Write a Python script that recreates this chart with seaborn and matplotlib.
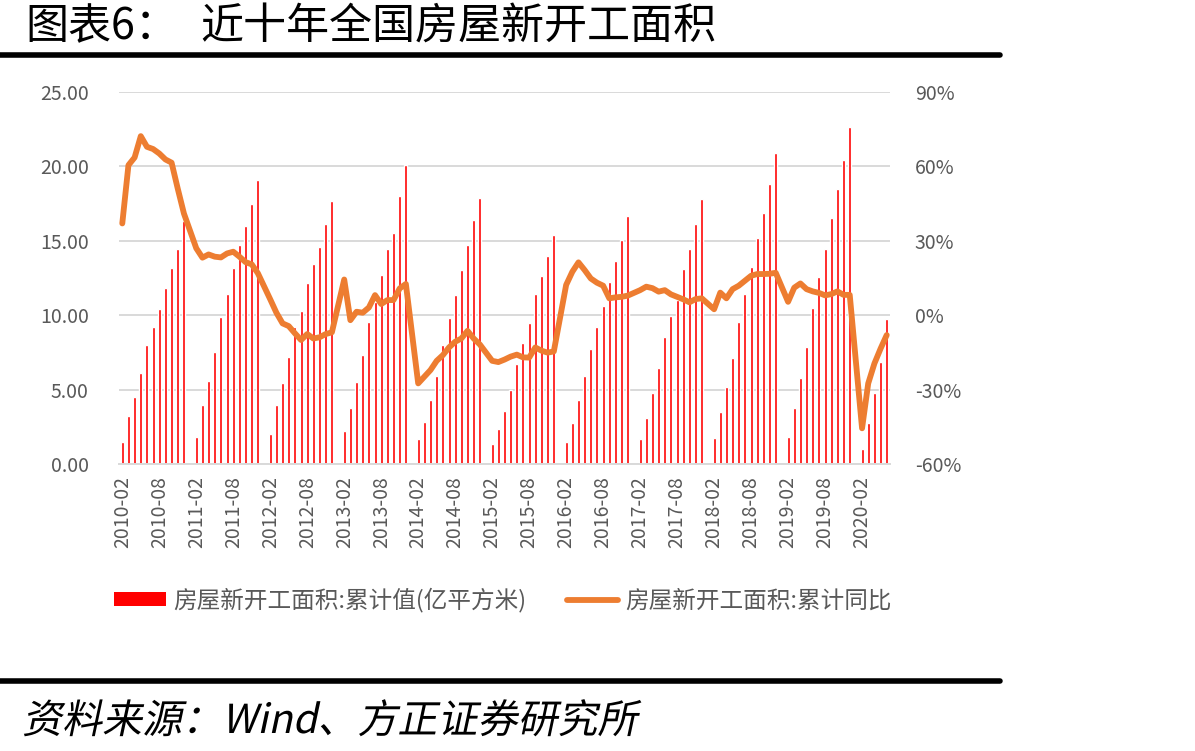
import numpy as np
import pandas as pd
import matplotlib
matplotlib.use("Agg")
import matplotlib.pyplot as plt
import seaborn as sns
from matplotlib.lines import Line2D
from matplotlib.patches import Patch, PathPatch
from matplotlib.textpath import TextPath
from matplotlib.font_manager import FontProperties
from matplotlib.transforms import Affine2D
from matplotlib.ticker import FuncFormatter

# 房屋新开工面积:累计值(亿平方米), 每年2-12月 (1-2月合并, 1月空缺)
area_2010 = [1.50, 3.20, 4.48, 6.10, 8.00, 9.19, 10.40, 11.85, 13.14, 14.43, 16.32]
area_2011 = [1.84, 3.97, 5.60, 7.55, 9.90, 11.42, 13.15, 14.70, 16.00, 17.45, 19.09]
area_2012 = [2.00, 3.97, 5.42, 7.21, 9.19, 10.30, 12.18, 13.42, 14.60, 16.13, 17.70]
area_2013 = [2.24, 3.78, 5.49, 7.30, 9.52, 10.90, 12.70, 14.43, 15.55, 18.03, 20.09]
area_2014 = [1.66, 2.84, 4.30, 5.93, 8.00, 9.79, 11.34, 13.06, 14.72, 16.40, 17.88]
area_2015 = [1.32, 2.35, 3.56, 5.00, 6.72, 8.10, 9.46, 11.42, 12.63, 14.00, 15.39]
area_2016 = [1.50, 2.78, 4.30, 5.93, 7.75, 9.19, 10.64, 12.21, 13.66, 15.03, 16.67]
area_2017 = [1.66, 3.11, 4.75, 6.47, 8.51, 9.97, 11.02, 13.08, 14.43, 16.13, 17.81]
area_2018 = [1.73, 3.47, 5.19, 7.14, 9.54, 11.42, 13.22, 15.21, 16.85, 18.82, 20.88]
area_2019 = [1.84, 3.78, 5.76, 7.88, 10.46, 12.55, 14.43, 16.51, 18.48, 20.43, 22.67]
area_2020 = [0.99, 2.78, 4.75, 6.88, 9.72]

# 房屋新开工面积:累计同比 (%)
yoy_2010 = [37.0, 60.5, 63.6, 72.2, 67.9, 67.0, 65.2, 62.8, 61.5, 51.0, 41.0]
yoy_2011 = [27.0, 23.2, 24.5, 23.6, 23.3, 24.9, 25.6, 23.6, 21.4, 20.5, 16.9]
yoy_2012 = [6.4, 1.0, -3.3, -4.4, -7.3, -10.0, -7.6, -9.4, -8.9, -7.6, -6.9]
yoy_2013 = [14.4, -2.0, 1.4, 1.0, 3.1, 8.1, 4.5, 6.1, 6.1, 10.8, 12.6]
yoy_2014 = [-27.5, -24.8, -22.1, -18.4, -16.1, -13.0, -10.7, -9.4, -6.3, -9.4, -11.8]
yoy_2015 = [-18.4, -18.9, -17.9, -16.7, -15.9, -17.0, -17.1, -13.0, -14.3, -15.1, -14.6]
yoy_2016 = [12.2, 17.5, 21.3, 18.2, 14.8, 13.1, 11.9, 6.8, 7.2, 7.4, 7.9]
yoy_2017 = [10.1, 11.5, 10.9, 9.5, 10.1, 8.4, 7.4, 6.4, 5.2, 6.5, 6.8]
yoy_2018 = [2.4, 9.1, 6.8, 10.5, 11.9, 13.9, 15.9, 16.6, 16.6, 16.7, 17.1]
yoy_2019 = [5.4, 11.1, 12.8, 10.5, 9.6, 9.0, 8.0, 8.5, 9.6, 8.2, 8.2]
yoy_2020 = [-45.6, -27.5, -19.5, -13.5, -8.0]

years = list(range(2010, 2021))
area_lists = [area_2010, area_2011, area_2012, area_2013, area_2014, area_2015,
              area_2016, area_2017, area_2018, area_2019, area_2020]
yoy_lists = [yoy_2010, yoy_2011, yoy_2012, yoy_2013, yoy_2014, yoy_2015,
             yoy_2016, yoy_2017, yoy_2018, yoy_2019, yoy_2020]

rows = []
for y, a, g in zip(years, area_lists, yoy_lists):
    if y > years[0]:
        rows.append((f"{y}-01", np.nan, np.nan))
    for k, (av, gv) in enumerate(zip(a, g)):
        rows.append((f"{y}-{k + 2:02d}", av, gv))
df = pd.DataFrame(rows, columns=["month", "area", "yoy"])
df["idx"] = np.arange(len(df))
data = df.dropna()

sns.set_theme(style="white")
plt.rcParams["font.family"] = ["Noto Sans CJK SC", "DejaVu Sans"]
plt.rcParams["axes.unicode_minus"] = False

W, H = 1195, 751
fig = plt.figure(figsize=(W / 100, H / 100), dpi=100)
ax = fig.add_axes([119.2 / W, 1 - 464 / H, 770.6 / W, 372 / H])

sns.barplot(data=data, x="idx", y="area", native_scale=True, color="#FF0000",
            saturation=1, width=0.487, errorbar=None, ax=ax)

ax2 = ax.twinx()
sns.lineplot(data=data, x="idx", y="yoy", color="#ED7D31", linewidth=4.2, ax=ax2)
for ln in ax2.lines:
    ln.set_solid_joinstyle("round")
    ln.set_solid_capstyle("round")

ax.set_xlim(-0.5, len(df) - 0.5)
ax.set_ylim(0, 25)
ax2.set_ylim(-60, 90)
ax.set_yticks(np.arange(0, 26, 5))
ax2.set_yticks(np.arange(-60, 91, 30))
ax.yaxis.set_major_formatter(FuncFormatter(lambda v, p: f"{v:.2f}"))
ax2.yaxis.set_major_formatter(FuncFormatter(lambda v, p: f"{v:.0f}%"))

label_pos = df["idx"].values[::6]
ax.set_xticks(label_pos)
ax.set_xticklabels(df["month"].values[::6], rotation=90)
ax.set_xticks(label_pos - 0.5, minor=True)
ax.tick_params(axis="x", which="major", length=0, pad=9, labelsize=14, labelcolor="#595959")
ax.tick_params(axis="x", which="minor", length=6, width=1.3, color="#D9D9D9")
ax.tick_params(axis="y", length=0, pad=22, labelsize=14, labelcolor="#595959")
ax2.tick_params(axis="y", length=0, pad=18, labelsize=14, labelcolor="#595959")

ax.grid(axis="y", color="#D9D9D9", linewidth=1.4)
ax.set_axisbelow(True)
for s in ["left", "right", "top"]:
    ax.spines[s].set_visible(False)
ax.spines["bottom"].set_color("#D9D9D9")
ax.spines["bottom"].set_linewidth(1.4)
for s in ax2.spines.values():
    s.set_visible(False)
for a in (ax, ax2):
    a.set_xlabel("")
    a.set_ylabel("")

handles = [Patch(facecolor="#FF0000", edgecolor="none"),
           Line2D([0], [0], color="#ED7D31", linewidth=4.2, solid_capstyle="round")]
labels = ["房屋新开工面积:累计值(亿平方米)", "房屋新开工面积:累计同比"]
fig.legend(handles, labels, loc="center left", bbox_to_anchor=(93 / W, 1 - 600 / H),
           ncol=2, frameon=False, fontsize=17, handlelength=2.2, handleheight=0.56,
           handletextpad=0.3, columnspacing=1.7, labelcolor="#595959")

fig.text(25 / W, 1 - 27 / H, "图表6：", fontsize=31, va="center", ha="left", color="black")
fig.text(200 / W, 1 - 27 / H, "近十年全国房屋新开工面积", fontsize=31, va="center", ha="left",
         color="black")
fig.add_artist(Line2D([0, 1000 / W], [1 - 55 / H, 1 - 55 / H], transform=fig.transFigure,
                      color="black", linewidth=4))
fig.add_artist(Line2D([0, 1000 / W], [1 - 681 / H, 1 - 681 / H], transform=fig.transFigure,
                      color="black", linewidth=4))

# 资料来源 (斜体效果)
src_path = TextPath((0, 0), "资料来源：Wind、方正证券研究所", size=40,
                    prop=FontProperties(family="Noto Sans CJK SC"))
src = PathPatch(src_path, facecolor="black", edgecolor="none",
                transform=Affine2D().skew_deg(12, 0).translate(22, H - 733))
fig.add_artist(src)

fig.savefig("out.png", dpi=100)
